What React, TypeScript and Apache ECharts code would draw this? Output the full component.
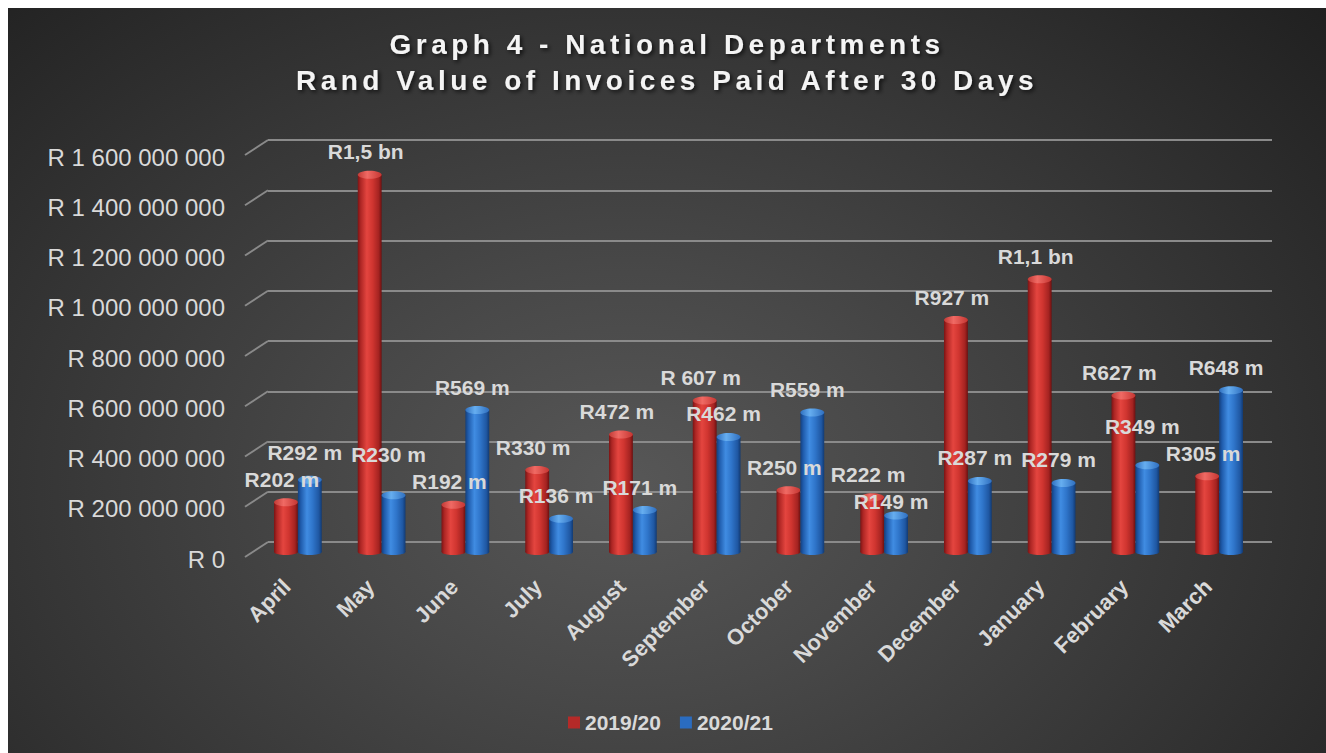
import React, { useEffect, useRef } from "react";
import * as echarts from "echarts";

const months = ["April", "May", "June", "July", "August", "September", "October", "November", "December", "January", "February", "March"];
const values1920 = [202e6, 1505e6, 192e6, 330e6, 472e6, 607e6, 250e6, 222e6, 927e6, 1090e6, 627e6, 305e6];
const values2021 = [292e6, 230e6, 569e6, 136e6, 171e6, 462e6, 559e6, 149e6, 287e6, 279e6, 349e6, 648e6];
const labels1920 = ["R202 m", "R1,5 bn", "R192 m", "R330 m", "R472 m", "R 607 m", "R250 m", "R222 m", "R927 m", "R1,1 bn", "R627 m", "R305 m"];
const labels2021 = ["R292 m", "R230 m", "R569 m", "R136 m", "R171 m", "R462 m", "R559 m", "R149 m", "R287 m", "R279 m", "R349 m", "R648 m"];
const yTicks = [0, 2e8, 4e8, 6e8, 8e8, 10e8, 12e8, 14e8, 16e8];
const seriesNames = ["2019/20", "2020/21"];

const FONT = '"Liberation Sans", Arial, sans-serif';
const LABEL = "#d9d9d9";
const LABEL_LIFT = 23;
const LABEL_SEP = 27;

const redBody = [
  { offset: 0, color: "#7a1414" },
  { offset: 0.12, color: "#ad2624" },
  { offset: 0.38, color: "#e4453f" },
  { offset: 0.62, color: "#d03530" },
  { offset: 0.88, color: "#a42321" },
  { offset: 1, color: "#6c1010" },
];
const blueBody = [
  { offset: 0, color: "#143f7c" },
  { offset: 0.12, color: "#1f5bab" },
  { offset: 0.38, color: "#408ce2" },
  { offset: 0.62, color: "#2f75ca" },
  { offset: 0.88, color: "#1f57a2" },
  { offset: 1, color: "#123a72" },
];
const redCap = [
  { offset: 0, color: "#c23a36" },
  { offset: 0.4, color: "#f06a64" },
  { offset: 1, color: "#c53632" },
];
const blueCap = [
  { offset: 0, color: "#2f70c0" },
  { offset: 0.4, color: "#66aef0" },
  { offset: 1, color: "#2f6fc0" },
];

function fmtRand(v: number) {
  return "R " + String(Math.round(v)).replace(/\B(?=(\d{3})+(?!\d))/g, " ");
}

function cylinder(side: number, body: any[], cap: any[], labels: string[], dx: number, partner: number[] | null) {
  return (params: any, api: any) => {
    const i = api.value(0);
    const v = api.value(1);
    const top = api.coord([i, v]);
    const base = api.coord([i, 0]);
    const band = api.size([1, 0])[0];
    const w = band * 0.285;
    const cx = top[0] + (side * w) / 2;
    const x0 = cx - w / 2;
    const ry = 4;
    let ly = top[1] - LABEL_LIFT;
    if (partner) {
      // keep this label clear of the other series' labels in this month and the next
      const idx = params.dataIndex;
      [idx, idx + 1].forEach((k) => {
        if (k >= partner.length) return;
        const py = api.coord([k, partner[k]])[1] - LABEL_LIFT;
        if (Math.abs(ly - py) < LABEL_SEP) {
          ly = ly < py ? py - LABEL_SEP : py + LABEL_SEP;
        }
      });
    }
    const bodyFill = new echarts.graphic.LinearGradient(0, 0, 1, 0, body);
    const capFill = new echarts.graphic.LinearGradient(0, 0, 1, 0, cap);
    return {
      type: "group",
      children: [
        { type: "ellipse", shape: { cx, cy: base[1] - 1, rx: w / 2, ry: 3 }, style: { fill: bodyFill } },
        { type: "rect", shape: { x: x0, y: top[1], width: w, height: base[1] - 1 - top[1] }, style: { fill: bodyFill } },
        { type: "ellipse", shape: { cx, cy: top[1], rx: w / 2, ry }, style: { fill: capFill } },
        {
          type: "text",
          z2: 100,
          style: {
            text: labels[params.dataIndex],
            x: cx + dx,
            y: ly,
            align: "center",
            verticalAlign: "middle",
            fill: LABEL,
            fontSize: 21,
            fontWeight: "bold",
            fontFamily: FONT,
          },
        },
      ],
    };
  };
}

export default function App() {
  const ref = useRef<HTMLDivElement>(null);
  useEffect(() => {
    document.body.style.margin = "8px 0 0 8px";
    document.body.style.overflow = "hidden";
    const el = ref.current!;
    const chart = echarts.init(el, undefined, { renderer: "svg" });
    const option: any = {
      animation: false,
      backgroundColor: "transparent",
      title: {
        text: "Graph 4 - National Departments\nRand Value of Invoices Paid After 30 Days",
        left: "center",
        top: 13,
        textStyle: {
          color: "#f4f4f4",
          fontSize: 28,
          fontWeight: "bold",
          fontFamily: FONT,
          lineHeight: 36,
          textShadowColor: "rgba(0,0,0,0.7)",
          textShadowBlur: 4,
          textShadowOffsetX: 2,
          textShadowOffsetY: 2,
        },
      },
      legend: {
        data: seriesNames,
        top: 699,
        left: 555,
        icon: "rect",
        itemWidth: 12,
        itemHeight: 12,
        itemGap: 19,
        textStyle: { color: LABEL, fontSize: 21, fontWeight: "bold", fontFamily: FONT },
      },
      grid: [
        { left: 248, width: 1005, top: 143, bottom: 200 }, // bars
        { left: 260, width: 1004, top: 132, bottom: 211 }, // back wall gridlines
        { left: 225, width: 10, top: 149, bottom: 194 }, // y labels
        { left: 237, width: 1005, top: 143, bottom: 200 }, // x labels
      ],
      xAxis: [
        { gridIndex: 0, type: "category", data: months, show: false },
        { gridIndex: 1, type: "value", min: 0, max: 1, show: false },
        { gridIndex: 2, type: "value", min: 0, max: 1, show: false },
        {
          gridIndex: 3,
          type: "category",
          data: months,
          axisLine: { show: false },
          axisTick: { show: false },
          axisLabel: {
            rotate: 45,
            margin: 30,
            interval: 0,
            color: LABEL,
            fontSize: 22,
            fontWeight: "bold",
            fontFamily: FONT,
          },
        },
      ],
      yAxis: [
        { gridIndex: 0, type: "value", min: 0, max: 1.6e9, interval: 2e8, show: false },
        {
          gridIndex: 1,
          type: "value",
          min: 0,
          max: 1.6e9,
          interval: 2e8,
          axisLine: { show: false },
          axisTick: { show: false },
          axisLabel: { show: false },
          splitLine: { show: true, lineStyle: { color: "#8a8a8a", width: 2 } },
        },
        {
          gridIndex: 2,
          type: "value",
          min: 0,
          max: 1.6e9,
          interval: 2e8,
          axisLine: { show: false },
          axisTick: { show: false },
          splitLine: { show: false },
          axisLabel: { margin: 8, color: LABEL, fontSize: 24, fontFamily: FONT, formatter: fmtRand },
        },
        { gridIndex: 3, type: "value", min: 0, max: 1.6e9, show: false },
      ],
      series: [
        {
          type: "custom",
          name: "walls",
          xAxisIndex: 1,
          yAxisIndex: 1,
          silent: true,
          z: 1,
          data: yTicks.map((v) => [0, v]),
          renderItem: (params: any, api: any) => {
            const p = api.coord([0, api.value(1)]);
            return {
              type: "line",
              shape: { x1: p[0] - 23, y1: p[1] + 15, x2: p[0], y2: p[1] },
              style: { stroke: "#8a8a8a", lineWidth: 2 },
            };
          },
        },
        {
          type: "custom",
          name: seriesNames[0],
          xAxisIndex: 0,
          yAxisIndex: 0,
          itemStyle: { color: "#b52a28" },
          data: values1920.map((v, i) => [i, v]),
          renderItem: cylinder(-1, redBody, redCap, labels1920, -4, null),
        },
        {
          type: "custom",
          name: seriesNames[1],
          xAxisIndex: 0,
          yAxisIndex: 0,
          itemStyle: { color: "#2a6cc0" },
          data: values2021.map((v, i) => [i, v]),
          renderItem: cylinder(1, blueBody, blueCap, labels2021, -5, values1920),
        },
      ],
    };
    chart.setOption(option);
    const applySpacing = () => {
      el.querySelectorAll("text").forEach((t) => {
        const s = t.textContent || "";
        if (s.startsWith("Graph 4") || s.startsWith("Rand Value")) {
          t.setAttribute("letter-spacing", "4.5");
        }
      });
    };
    applySpacing();
    chart.on("finished", applySpacing);
    return () => {
      chart.dispose();
    };
  }, []);
  return (
    <div
      ref={ref}
      style={{
        width: 1318,
        height: 745,
        background:
          "radial-gradient(ellipse 72% 95% at 47% 64%, #575757 0%, #484848 30%, #363636 62%, #202020 100%)",
      }}
    />
  );
}
